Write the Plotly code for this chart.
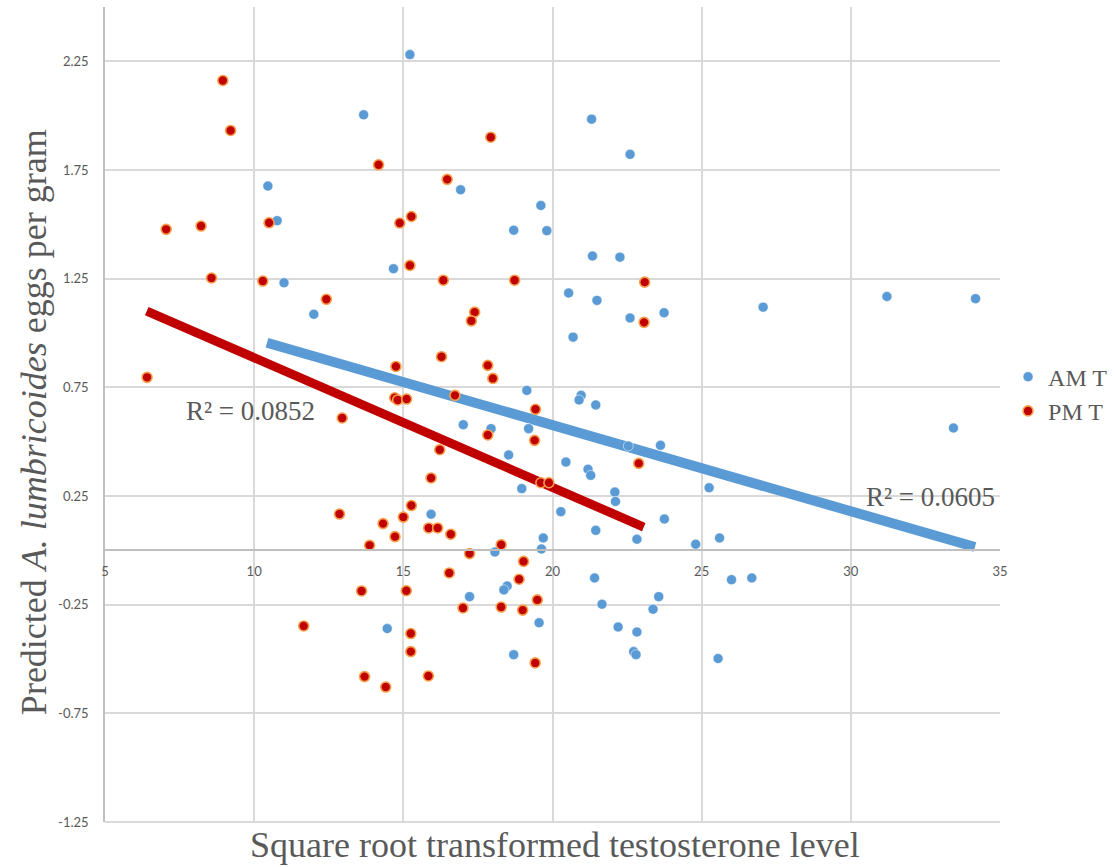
import plotly.graph_objects as go

# AM T series
am_x = [15.22, 13.67, 21.31, 22.60, 10.46, 16.92, 19.61, 10.77, 18.70, 19.81,
        21.34, 22.26, 14.67, 11.00, 20.54, 31.21, 34.18, 21.49, 27.06, 23.74,
        12.00, 22.60, 20.69, 19.14, 20.96, 20.89, 21.45, 17.01, 33.44, 17.94,
        19.20, 22.54, 23.62, 18.53, 20.45, 21.19, 21.28, 18.97, 25.25, 22.09,
        22.11, 20.28, 15.93, 23.75, 21.45, 19.69, 25.60, 22.83, 24.80, 19.63,
        18.07, 21.41, 26.68, 26.00, 18.48, 18.37, 17.22, 23.56, 21.66, 23.37,
        19.55, 22.20, 14.46, 22.83, 22.72, 18.70, 22.80, 25.55]
am_y = [2.281, 2.004, 1.984, 1.822, 1.676, 1.659, 1.587, 1.517, 1.473, 1.471,
        1.354, 1.349, 1.296, 1.231, 1.184, 1.168, 1.158, 1.150, 1.119, 1.093,
        1.086, 1.069, 0.981, 0.736, 0.713, 0.692, 0.669, 0.578, 0.563, 0.560,
        0.560, 0.480, 0.483, 0.439, 0.406, 0.373, 0.345, 0.284, 0.288, 0.268,
        0.225, 0.178, 0.166, 0.144, 0.092, 0.057, 0.057, 0.051, 0.028, 0.006,
        -0.008, -0.127, -0.127, -0.135, -0.164, -0.182, -0.213, -0.213, -0.248, -0.271,
        -0.333, -0.353, -0.360, -0.376, -0.466, -0.480, -0.480, -0.498]

# PM T series
pm_x = [8.95, 9.21, 17.93, 14.17, 16.47, 15.27, 14.88, 10.50, 8.22, 7.05,
        15.22, 8.57, 10.29, 16.34, 18.73, 23.09, 12.42, 17.39, 17.28, 23.07,
        16.28, 17.83, 14.75, 6.41, 18.00, 14.71, 14.81, 15.11, 16.73, 19.43,
        12.95, 17.83, 19.40, 16.22, 22.89, 15.93, 19.61, 19.88, 15.27, 12.86,
        15.00, 14.32, 15.85, 16.15, 16.59, 14.72, 18.28, 13.87, 17.22, 19.03,
        16.54, 18.88, 13.60, 15.10, 19.49, 18.28, 17.00, 19.00, 11.66, 15.25,
        15.25, 19.42, 15.84, 13.70, 14.41]
pm_y = [2.162, 1.932, 1.901, 1.774, 1.707, 1.536, 1.506, 1.507, 1.492, 1.477,
        1.311, 1.253, 1.239, 1.243, 1.243, 1.234, 1.155, 1.096, 1.056, 1.049,
        0.891, 0.851, 0.846, 0.796, 0.791, 0.702, 0.692, 0.696, 0.713, 0.649,
        0.609, 0.531, 0.506, 0.463, 0.400, 0.333, 0.311, 0.311, 0.206, 0.167,
        0.153, 0.123, 0.103, 0.103, 0.074, 0.063, 0.026, 0.023, -0.015, -0.051,
        -0.104, -0.133, -0.187, -0.186, -0.228, -0.261, -0.265, -0.275, -0.348, -0.383,
        -0.466, -0.518, -0.578, -0.581, -0.629]

# Linear trendline endpoints
am_trend_x = [10.43, 34.16]
am_trend_y = [0.955, 0.015]
pm_trend_x = [6.40, 23.06]
pm_trend_y = [1.101, 0.107]

am_r2 = "R² = 0.0605"
pm_r2 = "R² = 0.0852"

x_ticks = [5, 10, 15, 20, 25, 30, 35]
y_ticks = [-1.25, -0.75, -0.25, 0.25, 0.75, 1.25, 1.75, 2.25]
y_ticklabels = ["-1.25", "-0.75", "-0.25", "0.25", "0.75", "1.25", "1.75", "2.25"]

BLUE = "#5B9BD5"
RED = "#C00000"
TXT = "#595959"
GRID = "#D9D9D9"
AXIS = "#BFBFBF"

fig = go.Figure()

fig.add_trace(go.Scatter(x=am_trend_x, y=am_trend_y, mode="lines",
                         line=dict(color=BLUE, width=10), showlegend=False,
                         hoverinfo="skip"))
fig.add_trace(go.Scatter(x=pm_trend_x, y=pm_trend_y, mode="lines",
                         line=dict(color=RED, width=9), showlegend=False,
                         hoverinfo="skip"))

fig.add_trace(go.Scatter(x=am_x, y=am_y, mode="markers", name="AM T",
                         marker=dict(color=BLUE, size=10,
                                     line=dict(color="white", width=0.5))))
fig.add_trace(go.Scatter(x=pm_x, y=pm_y, mode="markers", name="PM T",
                         marker=dict(color=RED, size=10,
                                     line=dict(color="#F6A04D", width=1.6))))

fig.update_layout(
    width=1115, height=867,
    margin=dict(l=105, r=115, t=7, b=45, autoexpand=False),
    plot_bgcolor="white", paper_bgcolor="white",
    showlegend=True,
    legend=dict(x=1.009, y=0.525, xanchor="left", yanchor="middle",
                font=dict(family="Liberation Serif", size=24, color=TXT),
                bgcolor="rgba(0,0,0,0)", tracegroupgap=0),
    xaxis=dict(range=[5, 35], tickvals=x_ticks, ticktext=[str(v) for v in x_ticks],
               showgrid=True, gridcolor=GRID, gridwidth=1.5,
               zeroline=False, showline=True, linecolor=AXIS, linewidth=1.5,
               anchor="free", position=1.25 / 3.75,
               ticks="", ticklabelstandoff=9,
               tickfont=dict(family="Lato", size=13, color=TXT)),
    yaxis=dict(range=[-1.25, 2.5], tickvals=y_ticks, ticktext=y_ticklabels,
               showgrid=True, gridcolor=GRID, gridwidth=1.5,
               zeroline=False, showline=True, linecolor=AXIS, linewidth=1.5,
               ticks="", ticklabelstandoff=12,
               tickfont=dict(family="Lato", size=13, color=TXT)),
)

# bottom border of the plot area (gridline at -1.25)
fig.add_shape(type="line", xref="paper", yref="paper",
              x0=0, x1=1, y0=0, y1=0, layer="below",
              line=dict(color=GRID, width=1.8))

fig.add_annotation(text="Predicted <i>A. lumbricoides</i> eggs per gram",
                   xref="paper", yref="paper", x=-0.079, y=0.491,
                   xanchor="center", yanchor="middle", textangle=-90,
                   showarrow=False,
                   font=dict(family="Liberation Serif", size=36, color=TXT))
fig.add_annotation(text="Square root transformed testosterone level",
                   xref="paper", yref="paper", x=0.503, y=-0.028,
                   xanchor="center", yanchor="middle", showarrow=False,
                   font=dict(family="Liberation Serif", size=36, color=TXT))
fig.add_annotation(text=pm_r2, x=9.87, y=0.639, showarrow=False,
                   font=dict(family="Liberation Serif", size=27, color=TXT))
fig.add_annotation(text=am_r2, x=32.68, y=0.244, showarrow=False,
                   font=dict(family="Liberation Serif", size=27, color=TXT))

fig.write_html("out.html")
